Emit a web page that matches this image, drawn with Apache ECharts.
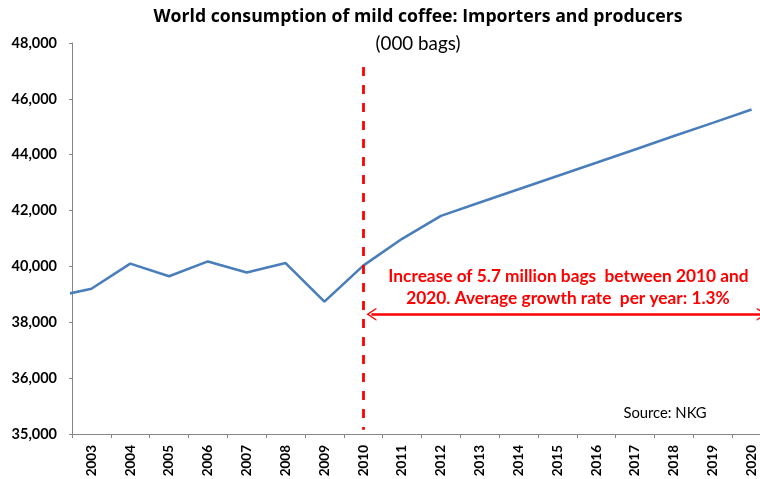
<!DOCTYPE html>
<html>
<head>
<meta charset="utf-8">
<script src="https://cdn.jsdelivr.net/npm/echarts@6/dist/echarts.min.js"></script>
<style>html,body{margin:0;padding:0;background:#fff}#c{width:760px;height:479px}</style>
</head>
<body>
<div id="c"></div>
<script>
// Category labels shown on the x axis
var yearLabels = ['2003','2004','2005','2006','2007','2008','2009','2010','2011','2012','2013','2014','2015','2016','2017','2018','2019','2020'];
// Data years (2002 is only a lead-in point clipped at the axis)
var dataYears = [2002,2003,2004,2005,2006,2007,2008,2009,2010,2011,2012,2013,2014,2015,2016,2017,2018,2019,2020];
// Consumption, 000 bags
var consumption = [38900,39200,40100,39650,40180,39780,40120,38740,40030,40990,41810,42290,42760,43240,43710,44190,44670,45140,45620];
// Y tick labels (as printed in the reference, bottom first)
var yTickLabels = ['35,000','36,000','38,000','40,000','42,000','44,000','46,000','48,000'];

var FONT = 'Lato';
var chart = echarts.init(document.getElementById('c'), null, {renderer: 'canvas'});
var pts = dataYears.map(function (y, i) { return [y, consumption[i]]; });
var chevron = 'path://M10,0 L20,13 L17.6,13 L10,3.2 L2.4,13 L0,13 Z';

var option = {
  animation: false,
  backgroundColor: '#fff',
  grid: {left: 72, right: -11, top: 43, bottom: 45, containLabel: false, outerBoundsMode: 'none'},
  xAxis: [{
    type: 'category',
    data: yearLabels,
    boundaryGap: true,
    axisLine: {lineStyle: {color: '#868686', width: 1}},
    axisTick: {show: true, length: 4, lineStyle: {color: '#868686'}},
    axisLabel: {rotate: 90, margin: 11, fontFamily: FONT, fontWeight: 'bold', fontSize: 13.5, color: '#000'},
    splitLine: {show: false}
  }, {
    type: 'value',
    min: 2002.5, max: 2020.5,
    show: false,
    splitLine: {show: false}
  }],
  yAxis: {
    type: 'value',
    min: 34000, max: 48000, interval: 2000,
    axisLine: {show: true, lineStyle: {color: '#868686', width: 1}},
    axisTick: {show: true, length: 3, lineStyle: {color: '#868686'}},
    splitLine: {show: false},
    axisLabel: {
      margin: 15, fontFamily: FONT, fontWeight: 'bold', fontSize: 14.5, color: '#000',
      formatter: function (v) { return yTickLabels[Math.round((v - 34000) / 2000)]; }
    }
  },
  series: [{
    type: 'line',
    xAxisIndex: 1,
    data: pts,
    clip: true,
    showSymbol: false,
    symbol: 'none',
    lineStyle: {color: '#4A7EBB', width: 2.6},
    markLine: {
      silent: true,
      label: {show: false},
      data: [
        [{coord: [2010, 47140], symbol: 'none', lineStyle: {color: '#FF0000', width: 2.8, type: [9, 9]}},
         {coord: [2010, 34150], symbol: 'none'}],
        [{coord: [2010.21, 38290], symbol: chevron, symbolSize: [13, 10], lineStyle: {color: '#FF0000', width: 2.6, type: 'solid'}},
         {coord: [2020.26, 38290], symbol: chevron, symbolSize: [13, 10]}]
      ]
    }
  }],
  graphic: [
    {type: 'text', x: 418, y: 17, style: {text: 'World consumption of mild coffee: Importers and producers', fontFamily: 'Open Sans', fontWeight: 'bold', fontSize: 17.7, fill: '#000', align: 'center', verticalAlign: 'middle'}},
    {type: 'text', x: 418, y: 44, style: {text: '(000 bags)', fontFamily: FONT, fontSize: 18.8, fill: '#000', align: 'center', verticalAlign: 'middle'}},
    {type: 'text', x: 568.5, y: 276.5, style: {text: 'Increase of 5.7 million bags  between 2010 and', fontFamily: FONT, fontWeight: 'bold', fontSize: 17.3, fill: '#FF0000', align: 'center', verticalAlign: 'middle'}},
    {type: 'text', x: 568, y: 298.5, style: {text: '2020. Average growth rate  per year: 1.3%', fontFamily: FONT, fontWeight: 'bold', fontSize: 17.3, fill: '#FF0000', align: 'center', verticalAlign: 'middle'}},
    {type: 'text', x: 665, y: 413, style: {text: 'Source: NKG', fontFamily: FONT, fontSize: 14.8, fill: '#000', align: 'center', verticalAlign: 'middle'}}
  ]
};
chart.setOption(option);
</script>
</body>
</html>
